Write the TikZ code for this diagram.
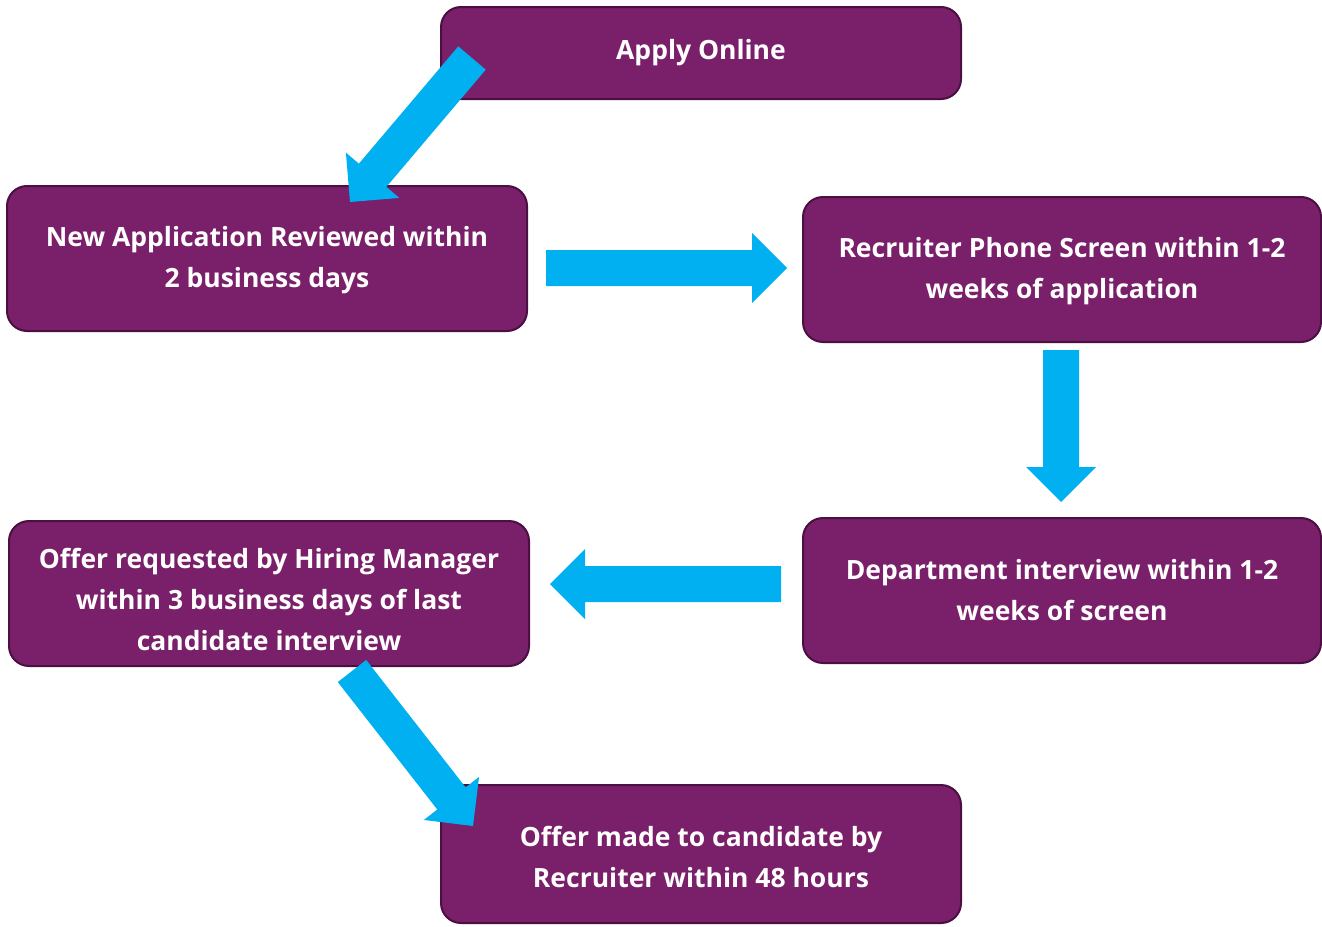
\documentclass[tikz,border=0pt]{standalone}
\usepackage{fontspec}
\setmainfont{Open Sans}
\usetikzlibrary{calc}
\definecolor{boxfill}{RGB}{122,31,106}
\definecolor{boxline}{RGB}{75,15,65}
\definecolor{arrowcyan}{RGB}{0,176,240}
\tikzset{
  stepbox/.style={draw=boxline, line width=2pt, fill=boxfill, rounded corners=20pt, inner sep=0pt},
  steptext/.style={text=white, align=center, font=\fontsize{26.5}{41}\selectfont\bfseries, inner sep=0pt},
  arrowfill/.style={fill=arrowcyan}
}
\newcommand{\blockarrow}[2]{%
  \coordinate (hb) at ($(#2)!35pt!(#1)$);
  \fill[arrowfill] ($(#1)!18pt!90:(#2)$) -- ($(hb)!18pt!90:(#2)$) -- ($(hb)!35pt!90:(#2)$)
    -- (#2) -- ($(hb)!35pt!-90:(#2)$) -- ($(hb)!18pt!-90:(#2)$) -- ($(#1)!18pt!-90:(#2)$) -- cycle;
}
\begin{document}
\begin{tikzpicture}[x=1pt,y=-1pt]
\useasboundingbox (0,0) rectangle (1322,926);
\node[stepbox, minimum width=520pt, minimum height=92pt] (b1) at (701,53) {};
\node[stepbox, minimum width=520pt, minimum height=145pt] (b2) at (267,258.5) {};
\node[stepbox, minimum width=518pt, minimum height=145pt] (b3) at (1062,269.5) {};
\node[stepbox, minimum width=518pt, minimum height=145pt] (b4) at (1062,590.5) {};
\node[stepbox, minimum width=520pt, minimum height=145pt] (b5) at (269,593.5) {};
\node[stepbox, minimum width=520pt, minimum height=138pt] (b6) at (701,854) {};
\node[steptext] (t1) at ($(b1.center)+(0,0)$) {Apply Online};
\node[steptext] (t2) at ($(b2.center)+(0,2)$) {New Application Reviewed within\\2 business days};
\node[steptext] (t3) at ($(b3.center)+(0,2)$) {Recruiter Phone Screen within 1-2\\weeks of application};
\node[steptext] (t4) at ($(b4.center)+(0,0)$) {Department interview within 1-2\\weeks of screen};
\node[steptext] (t5) at ($(b5.center)+(0,6)$) {Offer requested by Hiring Manager\\within 3 business days of last\\candidate interview};
\node[steptext] (t6) at ($(b6.center)+(0,3)$) {Offer made to candidate by\\Recruiter within 48 hours};
% arrow end points
\coordinate (a1s) at (472,58);   \coordinate (a1e) at (350,202);
\coordinate (a2s) at (546,268);  \coordinate (a2e) at (787,268);
\coordinate (a3s) at (1061,350); \coordinate (a3e) at (1061,502);
\coordinate (a4s) at (781,584);  \coordinate (a4e) at (550,584);
\coordinate (a5s) at (352,671);  \coordinate (a5e) at (473,826);
\blockarrow{a1s}{a1e}
\blockarrow{a2s}{a2e}
\blockarrow{a3s}{a3e}
\blockarrow{a4s}{a4e}
\blockarrow{a5s}{a5e}
\end{tikzpicture}
\end{document}
